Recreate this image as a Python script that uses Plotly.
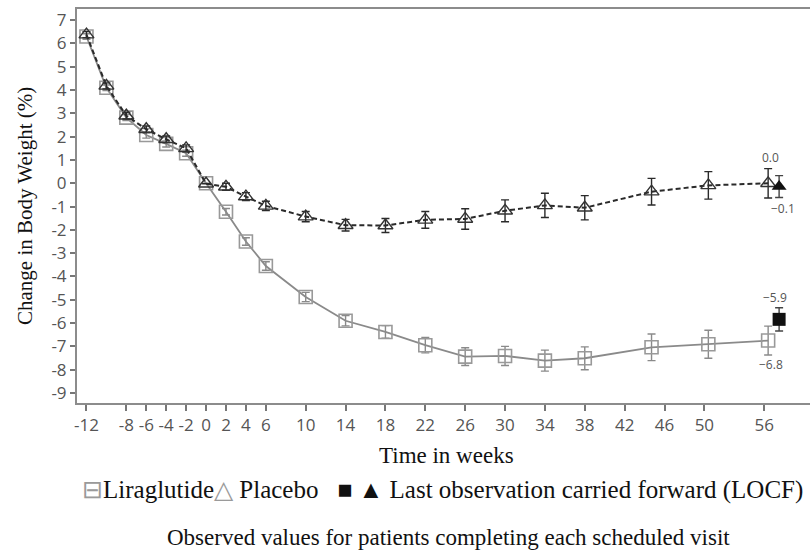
import plotly.graph_objects as go

# ---- data ----
weeks = [-12, -10, -8, -6, -4, -2, 0, 2, 4, 6, 10, 14, 18, 22, 26, 30, 34, 38, 44.7, 50.4, 56.4]
lira = [6.3, 4.1, 2.82, 2.07, 1.69, 1.29, 0.0, -1.22, -2.5, -3.55, -4.88, -5.9, -6.38,
        -6.95, -7.44, -7.41, -7.61, -7.51, -7.04, -6.91, -6.75]
lira_err = [0.12, 0.12, 0.13, 0.13, 0.13, 0.13, 0.0, 0.14, 0.16, 0.18, 0.2, 0.22, 0.27,
            0.33, 0.38, 0.41, 0.45, 0.49, 0.57, 0.6, 0.62]
plac = [6.38, 4.18, 2.9, 2.32, 1.89, 1.5, -0.02, -0.15, -0.57, -0.97, -1.43, -1.8, -1.81,
        -1.57, -1.53, -1.18, -0.95, -1.05, -0.36, -0.09, 0.0]
plac_err = [0.13, 0.13, 0.14, 0.14, 0.14, 0.15, 0.0, 0.15, 0.17, 0.2, 0.22, 0.25, 0.3,
            0.36, 0.44, 0.47, 0.52, 0.52, 0.57, 0.59, 0.63]
locf_week = [57.5]
lira_locf = [-5.84]
lira_locf_err = [0.5]
plac_locf = [-0.14]
plac_locf_err = [0.47]
tick_vals = [-12, -8, -6, -4, -2, 0, 2, 4, 6, 10, 14, 18, 22, 26, 30, 34, 38, 42, 46, 50, 56]
y_ticks = list(range(-9, 8))
end_labels = ["0.0", "\u22120.1", "\u22125.9", "\u22126.8"]

GRAY = "#8a8a8a"
DARK = "#2a2a2a"

fig = go.Figure()
fig.add_trace(go.Scatter(
    x=weeks, y=lira, mode="lines+markers",
    line=dict(color=GRAY, width=1.8),
    marker=dict(symbol="square-open", size=13, color="#999999", line=dict(width=1.6)),
    error_y=dict(type="data", array=lira_err, color=GRAY, thickness=1.4, width=4),
    showlegend=False))
fig.add_trace(go.Scatter(
    x=weeks, y=plac, mode="lines+markers",
    line=dict(color=DARK, width=2, dash="5px,3px"),
    marker=dict(symbol="triangle-up-open", size=13, color="#333333", line=dict(width=1.4)),
    error_y=dict(type="data", array=plac_err, color=DARK, thickness=1.4, width=4),
    showlegend=False))
fig.add_trace(go.Scatter(
    x=locf_week, y=lira_locf, mode="markers",
    marker=dict(symbol="square", size=13, color="#111111"),
    error_y=dict(type="data", array=lira_locf_err, color="#444", thickness=1.4, width=4),
    showlegend=False))
fig.add_trace(go.Scatter(
    x=locf_week, y=plac_locf, mode="markers",
    marker=dict(symbol="triangle-up", size=13, color="#111111"),
    error_y=dict(type="data", array=plac_locf_err, color="#444", thickness=1.4, width=4),
    showlegend=False))

lab_font = dict(family="Open Sans, DejaVu Sans", size=12, color="#555555")
ann = [
    dict(x=weeks[-1], y=plac[-1], text=end_labels[0], xref="x", yref="y", showarrow=False,
         xshift=2, yshift=26, font=lab_font),
    dict(x=locf_week[0], y=plac_locf[0], text=end_labels[1], xref="x", yref="y", showarrow=False,
         xshift=4, yshift=-22, font=lab_font),
    dict(x=locf_week[0], y=lira_locf[0], text=end_labels[2], xref="x", yref="y", showarrow=False,
         xshift=-4, yshift=22, font=lab_font),
    dict(x=weeks[-1], y=lira[-1], text=end_labels[3], xref="x", yref="y", showarrow=False,
         xshift=3, yshift=-24, font=lab_font),
]
SERIF = "Liberation Serif, Times New Roman, serif"
ann += [
    dict(x=0, y=0.5, xref="paper", yref="paper", xshift=-52, xanchor="center", yanchor="middle",
         text="Change in Body Weight (%)", textangle=-90, showarrow=False,
         font=dict(family=SERIF, size=21, color="#111")),
    dict(x=0.5, y=0, xref="paper", yref="paper", yshift=-52, xshift=3,
         xanchor="center", yanchor="middle", text="Time in weeks", showarrow=False,
         font=dict(family=SERIF, size=23, color="#111")),
    dict(x=0.5, y=0, xref="paper", yref="paper", yshift=-87, xshift=-1,
         xanchor="center", yanchor="middle",
         text="<span style='color:#9a9a9a'>\u229f</span>Liraglutide<span style='color:#9a9a9a'>\u25b3</span> Placebo&nbsp;&nbsp;&nbsp;\u25a0 \u25b2 Last observation carried forward (LOCF)",
         showarrow=False, font=dict(family=SERIF, size=25, color="#111")),
    dict(x=0.5, y=0, xref="paper", yref="paper", yshift=-134, xshift=5,
         xanchor="center", yanchor="middle",
         text="Observed values for patients completing each scheduled visit",
         showarrow=False, font=dict(family=SERIF, size=23, color="#111")),
]

tick_font = dict(family="Open Sans, DejaVu Sans", size=17, color="#555555")
fig.update_layout(
    width=811, height=551,
    margin=dict(l=77, r=1, t=9, b=148),
    paper_bgcolor="white", plot_bgcolor="white",
    annotations=ann,
    xaxis=dict(range=[-12.95, 60.6], tickvals=tick_vals, ticktext=[str(v) for v in tick_vals],
               ticks="outside", ticklen=6, tickwidth=1.5, tickcolor="#777",
               showline=True, linecolor="#8c8c8c", linewidth=2, mirror=True,
               showgrid=False, zeroline=False, tickfont=tick_font),
    yaxis=dict(range=[-9.43, 7.48], tickvals=y_ticks, ticktext=[str(v) for v in y_ticks],
               ticks="outside", ticklen=5, tickwidth=1.5, tickcolor="#777",
               showline=True, linecolor="#8c8c8c", linewidth=2, mirror=False,
               showgrid=False, zeroline=False, tickfont=tick_font),
)
fig.write_html("out.html")
